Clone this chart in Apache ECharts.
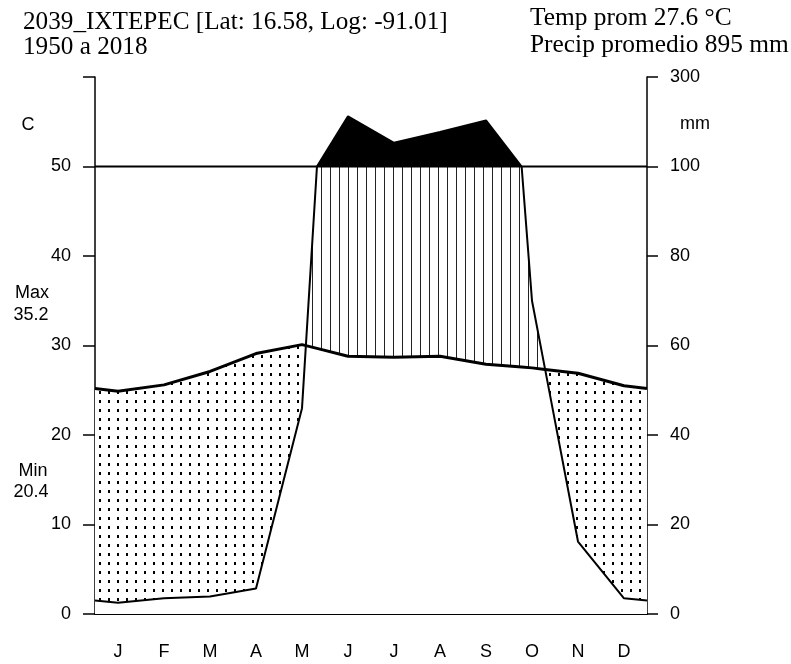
<!DOCTYPE html>
<html>
<head>
<meta charset="utf-8">
<script src="https://cdn.jsdelivr.net/npm/echarts@6/dist/echarts.min.js"></script>
<style>
html, body { margin: 0; padding: 0; background: #fff; }
#main { width: 791px; height: 664px; }
</style>
</head>
<body>
<div id="main"></div>
<script>
const months = ["J", "F", "M", "A", "M", "J", "J", "A", "S", "O", "N", "D"];
const tempC = [24.9, 25.6, 27.1, 29.1, 30.1, 28.8, 28.7, 28.8, 27.9, 27.5, 26.9, 25.5];
const precipMm = [2.5, 3.5, 3.9, 5.7, 46, 212, 153, 177, 203, 70, 16.2, 3.5];
const rightTicks = ["0", "20", "40", "60", "80", "100", "300"];

const SANS = "Liberation Sans";
const SERIF = "Liberation Serif";

// walter-lieth scale: 2 mm per degree up to 100 mm, then 20 mm per degree
function mmToAxis(mm) {
  return mm <= 100 ? mm / 2 : 50 + (mm - 100) / 20;
}

// monthly points at centers, closed at both edges with the dec/jan mean
function withEdges(vals) {
  const edge = (vals[0] + vals[11]) / 2;
  const pts = [[0, edge]];
  vals.forEach((v, i) => pts.push([i + 0.5, v]));
  pts.push([12, edge]);
  return pts;
}

function interp(pts, x) {
  for (let i = 1; i < pts.length; i++) {
    if (x <= pts[i][0]) {
      const [x0, y0] = pts[i - 1], [x1, y1] = pts[i];
      return y0 + (y1 - y0) * (x - x0) / (x1 - x0);
    }
  }
  return pts[pts.length - 1][1];
}

const tPts = withEdges(tempC);
const pMm = withEdges(precipMm);

// precip polyline in axis units, 100 mm crossings found in mm space
const pPts = [];
pMm.forEach((p, i) => {
  if (i > 0) {
    const [x0, a] = pMm[i - 1], [x1, b] = p;
    if ((a - 100) * (b - 100) < 0) {
      pPts.push([x0 + (x1 - x0) * (100 - a) / (b - a), 50]);
    }
  }
  pPts.push([p[0], mmToAxis(p[1])]);
});

// common x grid, plus temp/precip crossings
const xs = [...new Set(tPts.map(p => p[0]).concat(pPts.map(p => p[0])))].sort((a, b) => a - b);
const grid = [];
xs.forEach((x, i) => {
  if (i > 0) {
    const x0 = xs[i - 1];
    const d0 = interp(tPts, x0) - interp(pPts, x0);
    const d1 = interp(tPts, x) - interp(pPts, x);
    if (d0 * d1 < 0) grid.push(x0 + (x - x0) * d0 / (d0 - d1));
  }
  grid.push(x);
});

const tLine = grid.map(x => [x, interp(tPts, x)]);
const pLine = grid.map(x => [x, interp(pPts, x)]);
const pCap = pLine.map(p => [p[0], Math.min(p[1], 50)]);
const lowLine = grid.map((x, i) => [x, Math.min(tLine[i][1], pCap[i][1])]);

function tile(draw) {
  const c = document.createElement("canvas");
  c.width = 9;
  c.height = 9;
  const ctx = c.getContext("2d");
  ctx.fillStyle = "#fff";
  ctx.fillRect(0, 0, 9, 9);
  draw(ctx);
  return { image: c, repeat: "repeat" };
}
const dots = tile(ctx => { ctx.fillStyle = "#000"; ctx.fillRect(0, 4, 2, 3); });
const vlines = tile(ctx => { ctx.fillStyle = "#222"; ctx.fillRect(6, 0, 1, 9); });

function area(name, data, fill, z) {
  return {
    name, type: "line", xAxisIndex: 1, yAxisIndex: 0, data, z,
    symbol: "none", silent: true,
    lineStyle: { width: 0, opacity: 0 },
    areaStyle: { color: fill, opacity: 1 }
  };
}
function line(name, data, width, z) {
  return {
    name, type: "line", xAxisIndex: 1, yAxisIndex: 0, data, z,
    symbol: "none", silent: true,
    lineStyle: { color: "#000", width }
  };
}

const labelStyle = { color: "#000", fontSize: 18, fontFamily: SANS };
function txt(x, y, text, size, family, align) {
  return {
    type: "text", x, y,
    style: { text, fontSize: size, fontFamily: family, fill: "#000", align: align || "left", verticalAlign: "middle" }
  };
}

const option = {
  animation: false,
  backgroundColor: "#fff",
  grid: { left: 95, right: 144, top: 77, bottom: 50 },
  xAxis: [
    {
      type: "category", data: months, boundaryGap: true, position: "bottom",
      axisLine: { lineStyle: { color: "#000", width: 2 } },
      axisTick: { interval: 0, length: 15, lineStyle: { color: "#000", width: 1.5 } },
      axisLabel: Object.assign({ interval: 0, margin: 29 }, labelStyle),
      splitLine: { show: false }
    },
    { type: "value", min: 0, max: 12, show: false }
  ],
  yAxis: [
    {
      type: "value", min: 0, max: 60, interval: 10, position: "left",
      axisLine: { show: true, lineStyle: { color: "#000", width: 1.5 } },
      axisTick: { show: true, length: 12, lineStyle: { color: "#000", width: 1.5 } },
      axisLabel: Object.assign({ margin: 24, formatter: v => (v < 60 ? String(v) : "") }, labelStyle),
      splitLine: { show: false }
    },
    {
      type: "value", min: 0, max: 60, interval: 10, position: "right",
      axisLine: { show: true, lineStyle: { color: "#000", width: 1.5 } },
      axisTick: { show: true, length: 11, lineStyle: { color: "#000", width: 1.5 } },
      axisLabel: Object.assign({ margin: 23, formatter: v => rightTicks[Math.round(v / 10)] }, labelStyle),
      splitLine: { show: false }
    }
  ],
  series: [
    area("excess", pLine, "#000", 1),
    area("dry", tLine, dots, 2),
    area("humid", pCap, vlines, 3),
    area("base", lowLine, "#fff", 4),
    line("100mm", [[0, 50], [12, 50]], 2, 5),
    line("precip", pLine, 2, 6),
    line("temp", tLine, 3, 7)
  ],
  graphic: [
    txt(23, 22, "2039_IXTEPEC [Lat: 16.58, Log: -91.01]", 25.2, SERIF),
    txt(23, 47, "1950 a 2018", 25.2, SERIF),
    txt(530, 18, "Temp prom 27.6 °C", 25.4, SERIF),
    txt(530, 45, "Precip promedio 895 mm", 25.4, SERIF),
    txt(28, 125, "C", 18, SANS, "center"),
    txt(695, 124, "mm", 18, SANS, "center"),
    txt(32, 293, "Max", 18, SANS, "center"),
    txt(31, 315, "35.2", 18, SANS, "center"),
    txt(33, 471, "Min", 18, SANS, "center"),
    txt(31, 492, "20.4", 18, SANS, "center")
  ]
};

const myChart = echarts.init(document.getElementById("main"));
myChart.setOption(option);
window.onresize = function () {
  myChart.resize();
};
</script>
</body>
</html>
